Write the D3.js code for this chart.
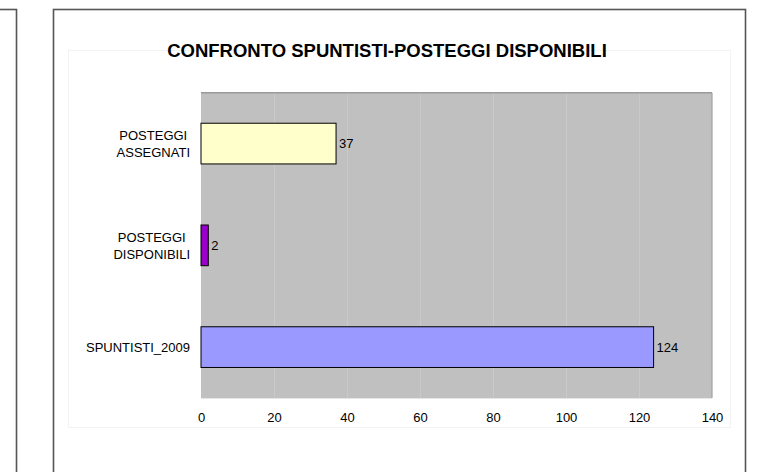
<!DOCTYPE html>
<html>
<head>
<meta charset="utf-8">
<script src="https://cdn.jsdelivr.net/npm/d3@7"></script>
<style>
  html, body { margin: 0; padding: 0; background: #fff; }
  svg { display: block; font-family: "Liberation Sans", Arial, sans-serif; }
</style>
</head>
<body>
<svg id="chart" width="764" height="472"></svg>
<script>
// ---- data ----
const title = "CONFRONTO SPUNTISTI-POSTEGGI DISPONIBILI";
const categories = ["POSTEGGI|ASSEGNATI", "POSTEGGI|DISPONIBILI", "SPUNTISTI_2009"];
const values = [37, 2, 124];
const barColors = ["#ffffcc", "#9900cc", "#9999ff"];
const xTicks = [0, 20, 40, 60, 80, 100, 120, 140];

const svg = d3.select("#chart");

// outer frames
svg.append("rect").attr("x", -20).attr("y", 9.5).attr("width", 36.5).attr("height", 500)
  .attr("fill", "none").attr("stroke", "#555").attr("stroke-width", 1.6);
svg.append("rect").attr("x", 53.5).attr("y", 9.5).attr("width", 692).attr("height", 500)
  .attr("fill", "#fff").attr("stroke", "#555").attr("stroke-width", 1.6);
// faint inner chart box
svg.append("rect").attr("x", 68.5).attr("y", 50.5).attr("width", 662).attr("height", 377)
  .attr("fill", "none").attr("stroke", "#f3f3f3");

const plot = { left: 201, right: 712, top: 92.7, bottom: 398 };

const x = d3.scaleLinear().domain([0, 140]).range([plot.left, plot.right]);
const y = d3.scaleBand().domain(categories).range([plot.top, plot.bottom])
  .paddingInner(0.6).paddingOuter(0.3);

// plot area
svg.append("rect").attr("x", plot.left).attr("y", plot.top)
  .attr("width", plot.right - plot.left).attr("height", plot.bottom - plot.top)
  .attr("fill", "#c0c0c0");

// gridlines
svg.append("g").selectAll("line").data(xTicks.slice(1, -1)).join("line")
  .attr("x1", d => Math.round(x(d)) + 0.5).attr("x2", d => Math.round(x(d)) + 0.5)
  .attr("y1", plot.top).attr("y2", plot.bottom)
  .attr("stroke", "#c9c9c9").attr("stroke-width", 1);

// plot border (top/right darker)
svg.append("line").attr("x1", plot.left).attr("x2", plot.right).attr("y1", plot.top).attr("y2", plot.top)
  .attr("stroke", "#9a9a9a").attr("stroke-width", 1.5);
svg.append("line").attr("x1", plot.right).attr("x2", plot.right).attr("y1", plot.top).attr("y2", plot.bottom)
  .attr("stroke", "#a0a0a0").attr("stroke-width", 1.2);
svg.append("line").attr("x1", plot.left).attr("x2", plot.right).attr("y1", plot.bottom + 0.5).attr("y2", plot.bottom + 0.5)
  .attr("stroke", "#e6e6e6").attr("stroke-width", 1);

// bars
svg.append("g").selectAll("rect").data(values).join("rect")
  .attr("x", x(0))
  .attr("y", (d, i) => y(categories[i]))
  .attr("width", d => x(d) - x(0))
  .attr("height", y.bandwidth())
  .attr("fill", (d, i) => barColors[i])
  .attr("stroke", "#000").attr("stroke-width", 1);

// value labels
svg.append("g").selectAll("text").data(values).join("text")
  .attr("x", d => x(d) + 3)
  .attr("y", (d, i) => y(categories[i]) + y.bandwidth() / 2 + 4.5)
  .attr("font-size", 13).attr("fill", "#000")
  .text(d => d);

// x axis tick labels
const xAxis = d3.axisBottom(x).tickValues(xTicks).tickSize(0).tickPadding(0);
const gx = svg.append("g").attr("transform", `translate(0,${plot.bottom + 15})`).call(xAxis);
gx.select(".domain").remove();
gx.selectAll("text").attr("font-size", 13).attr("font-family", "Liberation Sans, Arial, sans-serif")
  .attr("fill", "#000");

// category labels
const catG = svg.append("g");
categories.forEach(c => {
  const lines = c.split("|");
  const cy = y(c) + y.bandwidth() / 2;
  const lh = 17.5;
  const t = catG.append("text").attr("font-size", 13).attr("fill", "#000")
    .attr("text-anchor", "middle");
  lines.forEach((ln, i) => {
    t.append("tspan").attr("x", 0)
      .attr("y", cy + 5 + (i - (lines.length - 1) / 2) * lh).text(ln);
  });
  const w = t.node().getBBox().width;
  t.attr("transform", `translate(${190 - w / 2},0)`);
});

// title
svg.append("text").attr("x", 387).attr("y", 56.5).attr("text-anchor", "middle")
  .attr("font-size", 18.5).attr("font-weight", "bold").attr("fill", "#000")
  .text(title);
</script>
</body>
</html>
